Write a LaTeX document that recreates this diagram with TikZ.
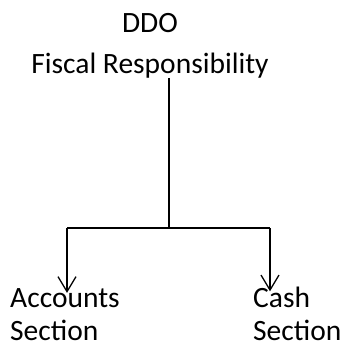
\documentclass[tikz,border=0pt]{standalone}
\usepackage{fontspec}
\setmainfont{Carlito}
\usetikzlibrary{arrows.meta}

\begin{document}
\begin{tikzpicture}[x=1pt,y=-1pt]
    \tikzstyle{unit}=[inner sep=0pt, align=left, font=\fontsize{29.5}{33}\selectfont]
    \tikzstyle{head}=[inner sep=0pt, align=center, font=\fontsize{29.5}{41}\selectfont]
    \tikzstyle{link}=[line width=1.3pt]
    \tikzstyle{branch}=[link,-{Straight Barb[length=15pt,width=18pt,line width=1.3pt]}]

    \useasboundingbox (0,0) rectangle (343,350);

    \node[head,anchor=base] (ddo) at (150,74) {DDO\\Fiscal Responsibility};

    \node[unit,anchor=base west] (accounts) at (10,340) {Accounts\\Section};
    \node[unit,anchor=base west] (cash) at (253,340) {Cash\\Section};

    \coordinate (fork) at (169,228);
    \coordinate (forkleft) at (67,228);
    \coordinate (forkright) at (270,228);

    \draw[link] (fork |- 0,78) -- (fork);
    \draw[link] (forkleft) -- (forkright);
    \draw[branch] (forkleft) -- ([yshift=-5pt]forkleft |- accounts.north);
    \draw[branch] (forkright) -- ([yshift=-5pt]forkright |- cash.north);
\end{tikzpicture}
\end{document}
